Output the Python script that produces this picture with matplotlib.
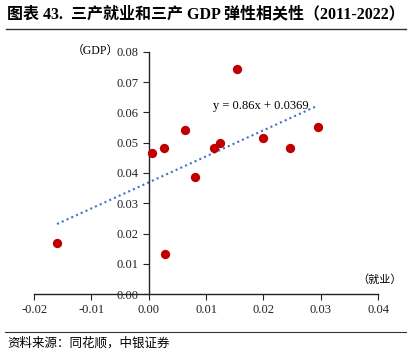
import matplotlib
matplotlib.use("Agg")
import matplotlib.pyplot as plt
import numpy as np

plt.rcParams['font.family'] = ['Liberation Serif', 'Noto Sans CJK SC']

# 三产就业弹性 (x) vs 三产GDP弹性 (y), 2011-2022
emp = [-0.0160, 0.0006, 0.0026, 0.0029, 0.0064, 0.0080,
       0.0114, 0.0124, 0.0153, 0.0199, 0.0246, 0.0295]
gdp = [0.0167, 0.0465, 0.0482, 0.0132, 0.0542, 0.0387,
       0.0482, 0.0498, 0.0745, 0.0515, 0.0482, 0.0551]
slope, intercept = 0.86, 0.0369
xticks = [-0.02, -0.01, 0.00, 0.01, 0.02, 0.03, 0.04]
yticks = [0.00, 0.01, 0.02, 0.03, 0.04, 0.05, 0.06, 0.07, 0.08]

fig = plt.figure(figsize=(4.16, 3.53), dpi=100)
ax = fig.add_axes([0.082, 0.167, 0.827, 0.686])

# trend line
tx = np.array([min(emp), max(emp)])
ax.plot(tx, slope * tx + intercept, color='#4472C4', linestyle=(0, (1, 1.5)), lw=1.5, zorder=2)
ax.scatter(emp, gdp, s=45, color='#C00000', zorder=3, linewidths=0)

ax.set_xlim(-0.02, 0.04)
ax.set_ylim(0, 0.08)
ax.set_xticks(xticks)
ax.set_yticks(yticks)
ax.set_xticklabels([f"{v:.2f}" for v in xticks])
ax.set_yticklabels([f"{v:.2f}" for v in yticks])
ax.spines['left'].set_position(('data', 0))
ax.spines['bottom'].set_position(('data', 0))
ax.spines['top'].set_visible(False)
ax.spines['right'].set_visible(False)
for s in ['left', 'bottom']:
    ax.spines[s].set_color('#222222')
    ax.spines[s].set_linewidth(1.0)
ax.tick_params(axis='both', labelsize=9, length=4, width=0.8, direction='out', colors='#222222')

ax.text(0.0195, 0.0622, f"y = {slope}x + {intercept}", fontsize=9, ha='center', va='center')

fig.text(0.285, 0.855, "（GDP）", fontsize=8.5, ha='right', va='center')
fig.text(0.965, 0.209, "（就业）", fontsize=8, ha='right', va='center',
         family=['Noto Sans CJK SC'])

# title and source
fig.text(0.018, 0.958, "图表 43.  三产就业和三产 GDP 弹性相关性（2011-2022）",
         fontsize=11.5, fontweight='bold', ha='left', va='center',
         family=['Liberation Serif', 'Noto Sans CJK SC'])
fig.add_artist(plt.Line2D([0.015, 0.975], [0.918, 0.918], color='#333333', lw=1.0))
fig.add_artist(plt.Line2D([0.012, 0.975], [0.06, 0.06], color='#333333', lw=0.8))
fig.text(0.018, 0.028, "资料来源：同花顺，中银证券", fontsize=9, style='italic',
         ha='left', va='center', family=['Noto Sans CJK SC'])

fig.savefig("out.png", dpi=100)
